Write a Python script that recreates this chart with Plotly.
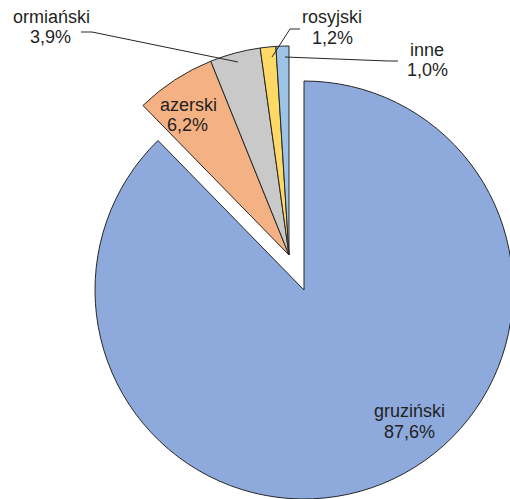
import plotly.graph_objects as go

# ---- data ----
labels = ["gruziński", "azerski", "ormiański", "rosyjski", "inne"]
values = [87.6, 6.2, 3.9, 1.2, 1.0]
value_text = ["87,6%", "6,2%", "3,9%", "1,2%", "1,0%"]
colors = ["#8EA9DB", "#F4B183", "#C9C9C9", "#FFD966", "#9DC3E6"]
exploded = [False, True, True, True, True]

W, H = 520, 499
EDGE = "#262626"
TXT = "#1f1f1f"
FONT = "Liberation Sans, Arial, sans-serif"

def px(x, y):
    return x / W, 1 - y / H

# big pie geometry in window pixels
CX, CY, R = 304.0, 290.0, 209.0
ax0, ay1 = px(CX - R, CY - R)
ax1, ay0 = px(CX + R, CY + R)
dx, dy = -15.0 / W, 35.0 / H  # shift of the exploded group

transparent = "rgba(0,0,0,0)"
fill_main = [c if not e else transparent for c, e in zip(colors, exploded)]
line_main = [EDGE if not e else transparent for e in exploded]
fill_exp = [c if e else transparent for c, e in zip(colors, exploded)]
line_exp = [EDGE if e else transparent for e in exploded]

common = dict(labels=labels, values=values, sort=False, direction="clockwise",
              rotation=0, textinfo="none", hoverinfo="skip", showlegend=False)

fig = go.Figure()
fig.add_trace(go.Pie(**common,
                     marker=dict(colors=fill_main, line=dict(color=line_main, width=1)),
                     domain=dict(x=[ax0, ax1], y=[ay0, ay1])))
fig.add_trace(go.Pie(**common,
                     marker=dict(colors=fill_exp, line=dict(color=line_exp, width=1)),
                     domain=dict(x=[ax0 + dx, ax1 + dx], y=[ay0 + dy, ay1 + dy])))

label_pos = {
    "gruziński": ((409, 410.6), (409, 431.6)),
    "azerski": ((188, 104.6), (187, 124.6)),
    "ormiański": ((51, 16.6), (50, 36.6)),
    "rosyjski": ((332, 16.6), (332, 37.6)),
    "inne": ((427, 49.6), (427, 69.6)),
}
annotations = []
for lab, vt in zip(labels, value_text):
    for t, (lx, ly) in ((lab, label_pos[lab][0]), (vt, label_pos[lab][1])):
        qx, qy = px(lx, ly)
        annotations.append(dict(x=qx, y=qy, xref="paper", yref="paper", text=t,
                                showarrow=False, xanchor="center", yanchor="middle",
                                font=dict(family=FONT, size=18, color=TXT)))

leaders = {
    "ormiański": [(81, 32), (92, 32), (238, 62)],
    "rosyjski": [(300, 29), (290, 29), (272, 57)],
    "inne": [(398, 61), (388, 61), (285, 57)],
}
shapes = []
for lab, pts in leaders.items():
    path = ""
    for i, (a, b) in enumerate(pts):
        pa, pb = px(a, b)
        path += ("M" if i == 0 else " L") + f" {pa:.5f} {pb:.5f}"
    shapes.append(dict(type="path", path=path, xref="paper", yref="paper",
                       line=dict(color=EDGE, width=1)))

fig.update_layout(width=W, height=H, margin=dict(l=0, r=0, t=0, b=0),
                  paper_bgcolor="white", plot_bgcolor="white",
                  annotations=annotations, shapes=shapes,
                  font=dict(family=FONT), hovermode=False)

page_js = ("document.documentElement.style.overflow='hidden';"
           "document.body.style.margin='0';"
           "document.body.style.overflow='hidden';")
fig.write_html("out.html", post_script=page_js,
               config={"displayModeBar": False, "staticPlot": True})
